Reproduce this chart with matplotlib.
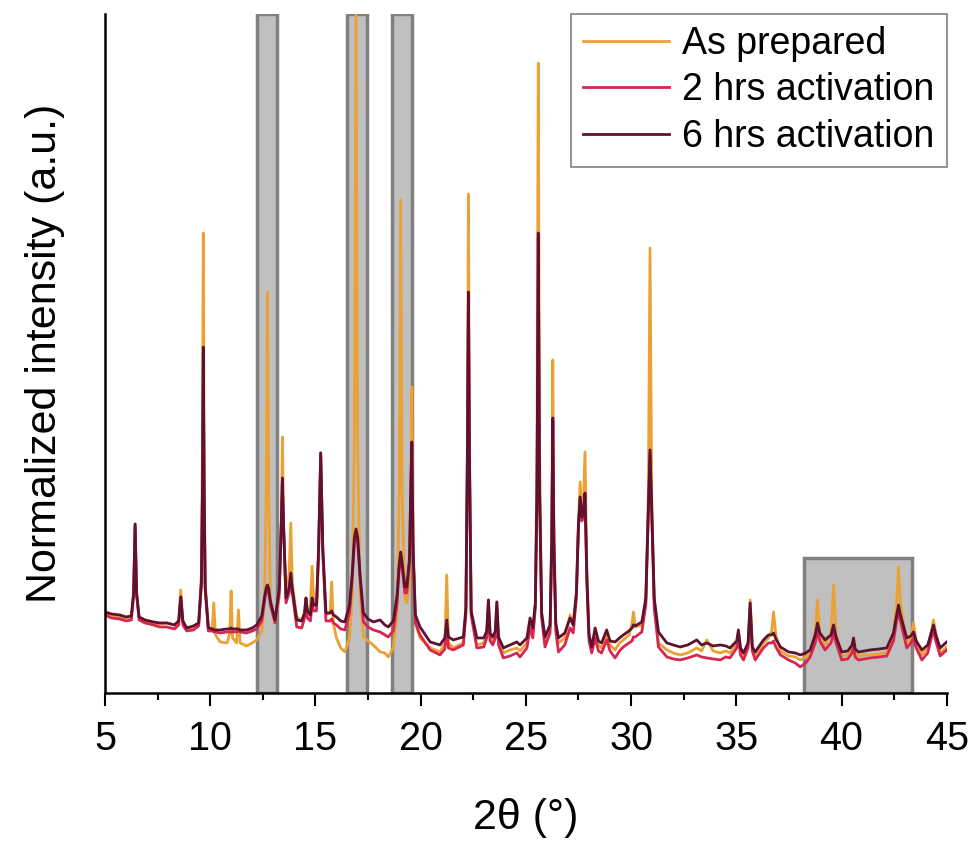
import numpy as np
import matplotlib
matplotlib.use("Agg")
import matplotlib.pyplot as plt
import matplotlib.ticker as ticker
from matplotlib.patches import Rectangle

plt.rcParams['font.family'] = ['Liberation Sans', 'DejaVu Sans']

# 2theta grid shared by the three patterns
two_theta = [
    5.00, 5.30, 5.70, 6.00, 6.25, 6.36, 6.43, 6.50, 6.62, 6.90, 7.30, 7.60, 7.93, 8.30, 8.50, 8.60, 8.70, 8.88, 9.20, 9.45,
    9.58, 9.63, 9.67, 9.71, 9.76, 9.91,
    10.10, 10.17, 10.25, 10.47, 10.80, 10.93, 10.99, 11.06, 11.25, 11.34, 11.42, 11.73, 12.00, 12.21, 12.45, 12.58, 12.66,
    12.72, 12.78, 12.86, 13.08,
    13.28, 13.38, 13.43, 13.48, 13.60, 13.75, 13.83, 13.90, 14.11, 14.35, 14.48, 14.55, 14.62, 14.76, 14.84, 14.92, 15.05,
    15.15, 15.25, 15.35, 15.50, 15.70, 15.77, 15.85, 16.00, 16.20, 16.40,
    16.62, 16.75, 16.85, 16.93, 17.01, 17.12, 17.28, 17.50, 17.75, 18.07, 18.30, 18.46, 18.70, 18.88, 18.98, 19.05, 19.12,
    19.25, 19.34, 19.47, 19.53, 19.58, 19.64, 19.75, 19.97,
    20.45, 20.92, 21.15, 21.24, 21.32, 21.55, 22.03, 22.15, 22.22, 22.27, 22.32, 22.40, 22.67, 23.00, 23.14, 23.22, 23.30,
    23.43, 23.55, 23.62, 23.70, 23.93, 24.25, 24.57, 24.72, 25.05, 25.20, 25.33, 25.45, 25.53, 25.59, 25.65, 25.75, 25.91,
    26.15, 26.23, 26.28, 26.33, 26.42, 26.55, 26.85, 27.10, 27.25, 27.40, 27.50, 27.58, 27.66, 27.72, 27.81, 27.90, 28.00,
    28.13,
    28.29, 28.45, 28.60, 28.84, 29.00, 29.24, 29.45, 29.63, 29.90, 30.05, 30.11, 30.20, 30.51, 30.70, 30.82, 30.90, 30.98,
    31.10, 31.30, 31.70,
    32.00, 32.33, 32.70, 33.12, 33.35, 33.60, 33.90, 34.24, 34.50, 34.70, 35.02, 35.10, 35.20, 35.34, 35.56, 35.66, 35.76,
    35.90, 36.29, 36.53, 36.68, 36.77, 36.88, 37.10, 37.48,
    37.80, 38.04, 38.30, 38.51, 38.75, 38.86, 38.97, 39.22, 39.50, 39.62, 39.74, 40.01, 40.30, 40.50, 40.57, 40.65, 40.80,
    41.10, 41.36, 41.80, 42.15, 42.47, 42.62, 42.71, 42.80, 43.10, 43.30, 43.42, 43.55, 43.82, 44.10, 44.30, 44.37, 44.48,
    44.69, 45.00,
]

as_prepared = [
    80, 78, 76, 75, 76, 100, 169, 100, 76, 72, 70, 69, 70, 68, 72, 103, 72, 64, 66, 70,
    120, 250, 460, 250, 110, 66,
    64, 90, 58, 51, 50, 60, 102, 55, 50, 83, 50, 47, 50, 53, 62, 90, 200,
    401, 200, 90, 71,
    95, 170, 256, 170, 100, 120, 170, 110, 76, 72, 80, 95, 80, 85, 127, 90, 85,
    140, 235, 140, 78, 80, 111, 70, 55, 45, 41,
    55, 100, 250, 678, 250, 100, 56, 52, 48, 41, 40, 36, 45, 80, 200, 493, 200,
    95, 90, 110, 200, 306, 150, 70, 55,
    45, 41, 50, 118, 50, 45, 50, 80, 250, 499, 250, 80, 48, 50, 60, 93, 58,
    50, 60, 91, 55, 40, 43, 45, 42, 50, 70, 60, 90, 250, 630, 250, 80, 50,
    65, 170, 333, 170, 70, 50, 55, 78, 68, 100, 170, 211, 175, 180, 241, 120, 60,
    43,
    60, 48, 45, 58, 48, 43, 50, 53, 58, 70, 81, 66, 68, 90, 200, 445, 200,
    90, 50, 43,
    40, 38, 40, 45, 42, 53, 42, 40, 42, 40, 50, 60, 45, 37, 50, 93, 48,
    37, 50, 55, 62, 81, 58, 42, 37,
    36, 33, 36, 40, 60, 93, 60, 48, 60, 108, 60, 37, 38, 45, 50, 40, 37,
    38, 38, 39, 40, 60, 90, 126, 90, 50, 55, 70, 52, 38, 45, 65, 73, 60,
    40, 46,
]

activated_2h = [
    78, 75, 74, 72, 73, 98, 166, 98, 73, 70, 68, 66, 66, 64, 68, 96, 68, 62, 63, 67,
    110, 200, 340, 200, 105, 62,
    62, 61, 61, 60, 61, 61, 61, 61, 61, 62, 61, 60, 62, 64, 72, 92, 102,
    105, 100, 88, 70,
    100, 170, 212, 170, 90, 100, 115, 100, 66, 65, 75, 88, 75, 72, 88, 82, 82,
    140, 240, 140, 72, 72, 74, 70, 68, 64, 63,
    80, 115, 150, 160, 150, 115, 71, 66, 63, 61, 58, 56, 62, 90, 125, 138, 125,
    100, 100, 130, 200, 248, 140, 70, 58,
    43, 38, 44, 63, 45, 43, 48, 80, 230, 400, 230, 78, 45, 46, 55, 85, 52,
    48, 55, 85, 48, 35, 37, 40, 36, 45, 65, 55, 85, 200, 455, 200, 75, 46,
    60, 150, 272, 150, 62, 41, 48, 65, 60, 95, 165, 195, 172, 175, 198, 110, 52,
    40,
    55, 42, 40, 53, 42, 35, 42, 46, 50, 52, 56, 56, 61, 88, 180, 240, 180,
    85, 46, 36,
    34, 33, 35, 38, 36, 35, 34, 33, 36, 35, 45, 55, 38, 33, 45, 85, 42,
    33, 45, 50, 50, 52, 46, 38, 33,
    30, 26, 30, 36, 50, 62, 52, 43, 50, 60, 50, 33, 34, 40, 47, 36, 33,
    34, 35, 36, 37, 52, 72, 82, 72, 45, 50, 55, 45, 33, 40, 58, 62, 52,
    37, 43,
]

activated_6h = [
    81, 79, 78, 76, 77, 100, 169, 100, 76, 73, 71, 70, 70, 68, 72, 96, 72, 65, 67, 70,
    110, 200, 346, 200, 105, 65,
    64, 63, 63, 63, 64, 64, 65, 64, 64, 64, 63, 63, 65, 68, 77, 96, 105,
    108, 104, 92, 73,
    105, 172, 215, 172, 95, 105, 120, 104, 73, 72, 80, 95, 82, 78, 95, 88, 88,
    145, 240, 145, 80, 80, 82, 78, 76, 72, 71,
    88, 120, 155, 164, 155, 118, 80, 74, 71, 73, 68, 66, 72, 98, 128, 141, 130,
    106, 106, 135, 205, 251, 145, 78, 66,
    51, 48, 55, 73, 56, 53, 56, 85, 235, 401, 235, 82, 55, 55, 62, 93, 60,
    56, 62, 91, 56, 45, 48, 51, 48, 55, 75, 65, 90, 205, 460, 205, 80, 56,
    68, 152, 275, 152, 70, 55, 60, 75, 68, 100, 170, 196, 176, 180, 200, 115, 58,
    46,
    65, 52, 50, 63, 52, 51, 55, 58, 62, 65, 68, 67, 71, 95, 185, 243, 185,
    95, 61, 50,
    48, 46, 48, 53, 48, 50, 47, 48, 47, 45, 52, 63, 45, 40, 50, 90, 46,
    41, 53, 58, 58, 60, 54, 46, 41,
    40, 38, 40, 43, 58, 70, 60, 53, 58, 68, 56, 41, 42, 48, 55, 44, 41,
    42, 43, 44, 45, 60, 78, 88, 78, 55, 57, 61, 52, 43, 48, 63, 68, 58,
    45, 51,
]

series_labels = ["As prepared", "2 hrs activation", "6 hrs activation"]
series_colors = ["#EBA133", "#D7264F", "#5E1130"]

# highlighted 2theta regions (full height) and the lower box around 38-43
full_spans = [(12.22, 13.17), (16.50, 17.45), (18.64, 19.59)]
low_box = (38.22, 43.34, 135)

assert len(two_theta) == len(as_prepared) == len(activated_2h) == len(activated_6h)

fig = plt.figure(figsize=(9.76, 8.43), dpi=100)
ax = fig.add_axes([0.1076, 0.178, 0.8624, 0.8054])

for x0, x1 in full_spans:
    ax.axvspan(x0, x1, ymin=0, ymax=1, facecolor="#C0C0C0", edgecolor="#808080", linewidth=2.5, zorder=1)
ax.add_patch(Rectangle((low_box[0], 0), low_box[1] - low_box[0], low_box[2],
                       facecolor="#C0C0C0", edgecolor="#808080", linewidth=2.5, zorder=1))

for ys, lab, col in zip([as_prepared, activated_2h, activated_6h], series_labels, series_colors):
    ax.plot(two_theta, ys, color=col, linewidth=2.0, label=lab, zorder=2)

ax.set_xlim(5, 45)
ax.set_ylim(0, 679)

ax.spines["top"].set_visible(False)
ax.spines["right"].set_visible(False)
ax.spines["left"].set_linewidth(1.8)
ax.spines["bottom"].set_linewidth(1.8)
ax.spines["left"].set_zorder(3)
ax.spines["bottom"].set_zorder(3)

ax.set_yticks([])
ax.xaxis.set_major_locator(ticker.MultipleLocator(5))
ax.xaxis.set_minor_locator(ticker.MultipleLocator(2.5))
ax.tick_params(axis="x", which="major", direction="out", length=9.4, width=1.5, labelsize=28.5, pad=10)
ax.tick_params(axis="x", which="minor", direction="out", length=5, width=1.5)

ax.set_xlabel("2\u03b8 (\u00b0)", fontsize=31, labelpad=29)
ax.set_ylabel("Normalized intensity (a.u.)", fontsize=31, labelpad=29)

leg = ax.legend(loc="upper right", fontsize=27, frameon=True, fancybox=False, borderaxespad=0,
                handlelength=2.3, handletextpad=0.35, labelspacing=0.28, borderpad=0.32)
leg.get_frame().set_edgecolor("#606060")
leg.get_frame().set_linewidth(1.2)

fig.savefig("out.png", dpi=100)
